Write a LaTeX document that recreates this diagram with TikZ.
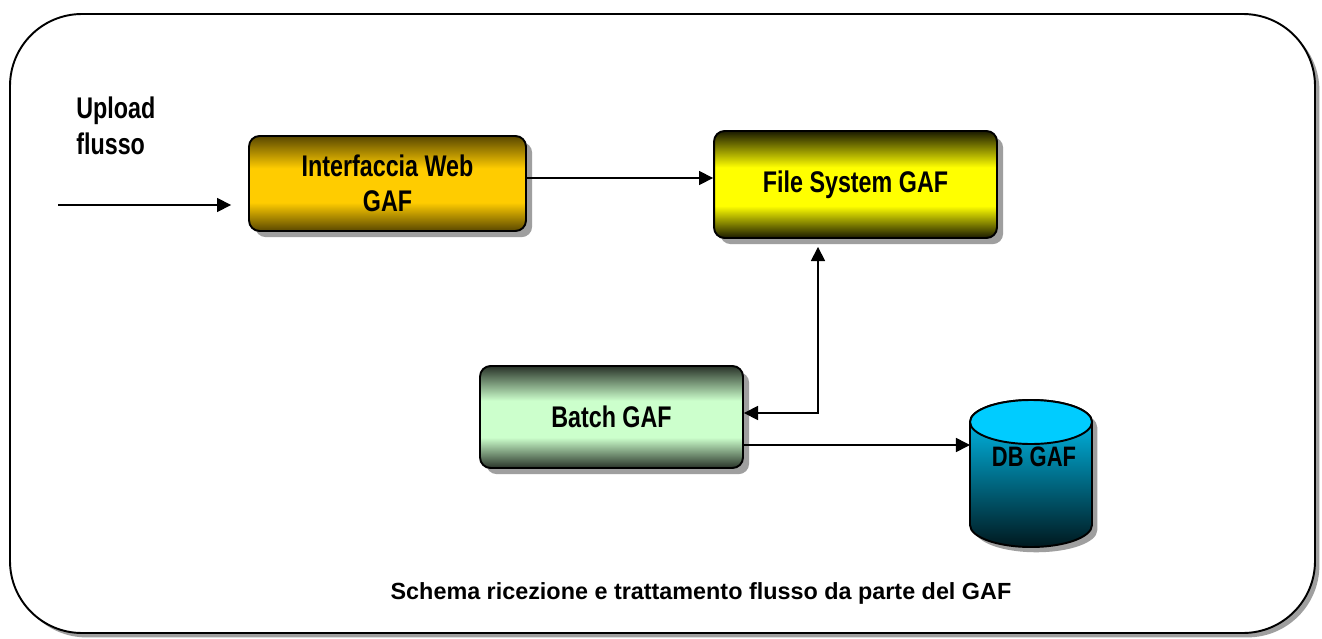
\documentclass[tikz,border=0pt]{standalone}
\usepackage{fontspec}
\setmainfont{Liberation Sans}
\newfontfamily\tallfont[FakeStretch=0.78]{Liberation Sans}
\usepackage{xcolor}
\usepackage{tikz}
\usetikzlibrary{arrows.meta,positioning,shadows,calc}

\definecolor{webgold}{HTML}{FFCC00}
\definecolor{fsyellow}{HTML}{FFFF00}
\definecolor{batchgreen}{HTML}{CCFFCC}
\definecolor{dbcyan}{HTML}{00CCFF}

\pgfdeclareverticalshading{webshade}{100bp}{color(0bp)=(webgold!35!black); color(25bp)=(webgold!35!black); color(40bp)=(webgold); color(58bp)=(webgold); color(75bp)=(webgold!35!black); color(100bp)=(webgold!35!black)}
\pgfdeclareverticalshading{fsshade}{100bp}{color(0bp)=(fsyellow!10!black); color(25bp)=(fsyellow!10!black); color(40bp)=(fsyellow); color(58bp)=(fsyellow); color(75bp)=(fsyellow!10!black); color(100bp)=(fsyellow!10!black)}
\pgfdeclareverticalshading{batchshade}{100bp}{color(0bp)=(batchgreen!20!black); color(25bp)=(batchgreen!20!black); color(40bp)=(batchgreen); color(58bp)=(batchgreen); color(75bp)=(batchgreen!20!black); color(100bp)=(batchgreen!20!black)}

\tikzset{
  gafbox/.style={draw, line width=1.1pt, rounded corners=6pt, inner sep=0pt,
    align=center, font=\tallfont\bfseries\fontsize{17}{20}\selectfont,
    drop shadow={shadow xshift=3.5pt, shadow yshift=-3.5pt, fill=gray!75, opacity=1}},
  flow/.style={-{Triangle[length=8pt,width=8pt]}, line width=0.9pt},
  flowboth/.style={{Triangle[length=8pt,width=8pt]}-{Triangle[length=8pt,width=8pt]}, line width=0.9pt},
}

\begin{document}
\begin{tikzpicture}[x=0.02cm, y=-0.02cm]
    \useasboundingbox (0,0) rectangle (1322,639);

    % Frame
    \draw[line width=1.1pt, rounded corners=1.44cm, fill=white,
          drop shadow={shadow xshift=2.5pt, shadow yshift=-2.5pt, fill=gray!75, opacity=1}]
        (10,14) rectangle (1315,633);

    % Boxes
    \node[gafbox, shading=webshade, minimum width=5.54cm, minimum height=1.9cm] (iw) at (387.5,183.5) {Interfaccia Web\\GAF};
    \node[gafbox, shading=fsshade, minimum width=5.66cm, minimum height=2.14cm] (fs) at (855.5,184.5) {File System GAF};
    \node[gafbox, shading=batchshade, minimum width=5.26cm, minimum height=2.04cm] (batch) at (611.5,417) {Batch GAF};

    % Database
    \coordinate (db) at (1031,473.5);
    \begin{scope}[shift={(db)}]
        \path[draw, line width=1.1pt, top color=dbcyan, bottom color=dbcyan!12!black,
              drop shadow={shadow xshift=3pt, shadow yshift=-3pt, fill=gray!75, opacity=1}]
            (-61,-51.5) -- (-61,51.5) arc (180:360:1.22cm and 0.44cm) -- (61,-51.5) arc (0:180:1.22cm and 0.44cm) -- cycle;
        \draw[line width=1.1pt, fill=dbcyan] (0,-51.5) ellipse (1.22cm and 0.44cm);
    \end{scope}
    \node[font=\tallfont\bfseries\fontsize{16}{19}\selectfont, inner sep=0pt] (dblabel) at (1034,457) {DB GAF};

    % Labels
    \node[anchor=north west, align=left, inner sep=0pt, font=\tallfont\bfseries\fontsize{17}{20}\selectfont] (upload) at (76,97) {Upload\\flusso};
    \node[font=\bfseries\fontsize{13.3}{16}\selectfont] (caption) at (701,593) {Schema ricezione e trattamento flusso da parte del GAF};

    % Connectors
    \coordinate (src) at (58,205);
    \draw[flow] (src) -- ($(src -| iw.west)+(-17,0)$);
    \draw[flow] ([yshift=0.11cm]iw.east) -- ([yshift=0.11cm]iw.east -| fs.west);
    \coordinate (fork) at (818,413);
    \draw[flowboth] (fork -| batch.east) -- (fork) -- ($(fork |- fs.south)+(0,8)$);
    \coordinate (dbin) at (743,445);
    \draw[flow] (dbin) -- ($(db)+(-61,-28.5)$);
\end{tikzpicture}
\end{document}
